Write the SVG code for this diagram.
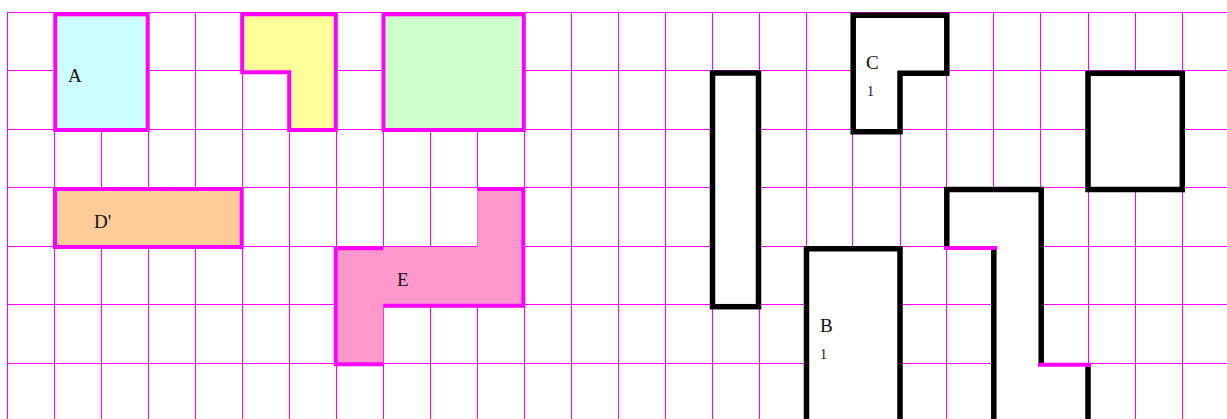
<svg xmlns="http://www.w3.org/2000/svg" width="1227" height="419" viewBox="0 0 1227 419">
<style>
.grid{stroke:#ff00ff;stroke-width:1;fill:none}
.mag{stroke:#ff00ff;stroke-width:4;stroke-linejoin:miter;stroke-linecap:square}
.magl{stroke:#ff00ff;stroke-width:4;fill:none;stroke-linecap:butt}
.blk{stroke:#000;stroke-width:5.5;fill:#fff;stroke-linejoin:miter;stroke-linecap:butt}
.blkl{stroke:#000;stroke-width:5.5;fill:none;stroke-linejoin:miter;stroke-linecap:butt}
.lbl{font-family:"Liberation Serif","Times New Roman",serif;font-size:19px;fill:#111}
.sub{font-family:"Liberation Serif","Times New Roman",serif;font-size:14px;fill:#111}
</style>
<rect x="0" y="0" width="1227" height="419" fill="#fff"/>
<g id="grid" class="grid">
<path d="M7.5,12.5V419M54.5,12.5V419M101.5,12.5V419M148.5,12.5V419M195.5,12.5V419M242.5,12.5V419M289.5,12.5V419M336.5,12.5V419M383.5,12.5V419M430.5,12.5V419M477.5,12.5V419M524.5,12.5V419M571.5,12.5V419M618.5,12.5V419M665.5,12.5V419M712.5,12.5V419M759.5,12.5V419M806.5,12.5V419M852.5,12.5V419M900.5,12.5V419M946.5,12.5V419M993.5,12.5V419M1040.5,12.5V419M1088.5,12.5V419M1135.5,12.5V419M1182.5,12.5V419"/>
<path d="M7,12.5H1227M7,70.5H1227M7,129.5H1227M7,187.5H1227M7,246.5H1227M7,304.5H1227M7,363.5H1227"/>
</g>
<g id="A">
<rect class="mag" x="55.3" y="14.3" width="92.4" height="115.7" fill="#ccffff"/>
<text class="lbl" x="68" y="82">A</text>
</g>
<g id="yellowL">
<path class="mag" d="M242.2,14.3H335.8V130H289.2V72.3H242.2Z" fill="#ffff99"/>
</g>
<g id="green">
<rect class="mag" x="383.5" y="14.3" width="140.3" height="115.7" fill="#ccffcc"/>
</g>
<g id="Dprime">
<rect class="mag" x="55" y="189" width="186.7" height="58" fill="#ffcc99"/>
<text class="lbl" x="94" y="228">D'</text>
</g>
<g id="E">
<path d="M335.7,247H477.3V187.5H523.3V305.7H383.3V364.3H335.7Z" fill="#ff99cc"/>
<path class="magl" d="M383.3,364.3H335.7V248.3H383.3M383.3,305.7H523.3V189H477.3" stroke-linejoin="miter"/>
<text class="lbl" x="397" y="286">E</text>
</g>
<g id="tall">
<rect class="blk" x="712.5" y="73" width="46" height="233.7"/>
</g>
<g id="C">
<path class="blk" d="M853.2,15.2H946.8V73.3H900V131.7H853.2Z"/>
<text class="lbl" x="866" y="69">C</text>
<text class="sub" x="867" y="96">1</text>
</g>
<g id="square">
<rect class="blk" x="1088" y="73.3" width="94.3" height="116.2"/>
</g>
<g id="B">
<path d="M806.5,425V248.7H900V425Z" fill="#fff"/>
<path class="blkl" d="M806.5,425V248.7H900V425"/>
<text class="lbl" x="820" y="332">B</text>
<text class="sub" x="820" y="359">1</text>
</g>
<g id="openShape">
<path d="M946.8,189.5H1041.2V364.7H1088V425H993.8V248H946.8Z" fill="#fff"/>
<path class="blkl" d="M946.8,248V189.5H1041.2V363"/>
<path class="blkl" d="M993.8,250V425"/>
<path class="blkl" d="M1088,366.7V425"/>
<path class="magl" d="M944,248H997.3M1038,364.7H1091"/>
</g>
</svg>
